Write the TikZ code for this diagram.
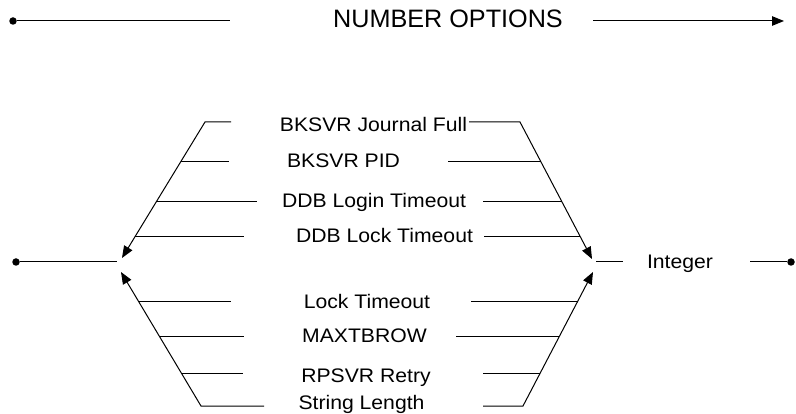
\documentclass[tikz,border=0pt]{standalone}
\usepackage{fontspec}
\setmainfont{Liberation Sans}
\newfontfamily\labfont[FakeStretch=1.08]{Liberation Sans}
\usetikzlibrary{arrows.meta}
\begin{document}
\begin{tikzpicture}[x=1pt,y=-1pt,
  ln/.style={line width=1pt,black},
  arr/.style={line width=1pt,black,-{Triangle[length=12pt,width=9.5pt]}},
  dotnode/.style={circle,fill=black,inner sep=0pt,minimum size=7.5pt},
  lab/.style={anchor=base,inner sep=0pt,font=\labfont\fontsize{19.6}{20}\selectfont},
  ttl/.style={anchor=base,inner sep=0pt,font=\fontsize{25.2}{26}\selectfont}]
\useasboundingbox (0,0) rectangle (796,414);

% title row
\node[dotnode] (d0) at (13,21) {};
\coordinate (t1) at (230,21);
\node[ttl] (T) at (448,28) {NUMBER OPTIONS};
\coordinate (t2) at (593,21);
\coordinate (t3) at (784,21);
\draw[ln] (d0) -- (t1);
\draw[arr] (t2) -- (t3);

% main row
\node[dotnode] (d1) at (16,262) {};
\coordinate (m1) at (117,262);
\draw[ln] (d1) -- (m1);
\coordinate (m2) at (596,262);
\coordinate (m3) at (623,262);
\draw[ln] (m2) -- (m3);
\node[lab] (I) at (680,269) {Integer};
\coordinate (m4) at (750,262);
\node[dotnode] (d2) at (791,262) {};
\draw[ln] (m4) -- (d2);

% labels
\node[lab] (a1) at (373.5,132) {BKSVR Journal Full};
\node[lab] (a2) at (343.5,168) {BKSVR PID};
\node[lab] (a3) at (374,208) {DDB Login Timeout};
\node[lab] (a4) at (384.5,243) {DDB Lock Timeout};
\node[lab] (b1) at (367,309) {Lock Timeout};
\node[lab] (b2) at (364.5,342) {MAXTBROW};
\node[lab] (b3) at (366,382) {RPSVR Retry};
\node[lab] (b4) at (361.5,409) {String Length};

% upper left
\coordinate (ul0) at (231,122);
\coordinate (ul1) at (205,122);
\coordinate (ult) at (122,258);
\draw[arr] (ul0) -- (ul1) -- (ult);
\coordinate (ul2a) at (180.6,162); \coordinate (ul2b) at (229,162);
\coordinate (ul3a) at (156.2,202); \coordinate (ul3b) at (257,202);
\coordinate (ul4a) at (134.8,237); \coordinate (ul4b) at (244,237);
\draw[ln] (ul2a) -- (ul2b);
\draw[ln] (ul3a) -- (ul3b);
\draw[ln] (ul4a) -- (ul4b);

% upper right
\coordinate (ur0) at (469,122);
\coordinate (ur1) at (520,122);
\coordinate (urt) at (592,259);
\draw[arr] (ur0) -- (ur1) -- (urt);
\coordinate (ur2a) at (448,162); \coordinate (ur2b) at (541,162);
\coordinate (ur3a) at (483,202); \coordinate (ur3b) at (562,202);
\coordinate (ur4a) at (484,237); \coordinate (ur4b) at (580.4,237);
\draw[ln] (ur2a) -- (ur2b);
\draw[ln] (ur3a) -- (ur3b);
\draw[ln] (ur4a) -- (ur4b);

% lower left
\coordinate (ll0) at (264,406);
\coordinate (ll1) at (201,406);
\coordinate (llt) at (121,272);
\draw[arr] (ll0) -- (ll1) -- (llt);
\coordinate (ll2a) at (181.9,374); \coordinate (ll2b) at (243,374);
\coordinate (ll3a) at (159.8,337); \coordinate (ll3b) at (244,337);
\coordinate (ll4a) at (138.9,302); \coordinate (ll4b) at (231,302);
\draw[ln] (ll2a) -- (ll2b);
\draw[ln] (ll3a) -- (ll3b);
\draw[ln] (ll4a) -- (ll4b);

% lower right
\coordinate (lr0) at (483,406);
\coordinate (lr1) at (523,406);
\coordinate (lrt) at (593,272);
\draw[arr] (lr0) -- (lr1) -- (lrt);
\coordinate (lr2a) at (483,374); \coordinate (lr2b) at (539.7,374);
\coordinate (lr3a) at (456,337); \coordinate (lr3b) at (559,337);
\coordinate (lr4a) at (471,302); \coordinate (lr4b) at (577.3,302);
\draw[ln] (lr2a) -- (lr2b);
\draw[ln] (lr3a) -- (lr3b);
\draw[ln] (lr4a) -- (lr4b);
\end{tikzpicture}
\end{document}
